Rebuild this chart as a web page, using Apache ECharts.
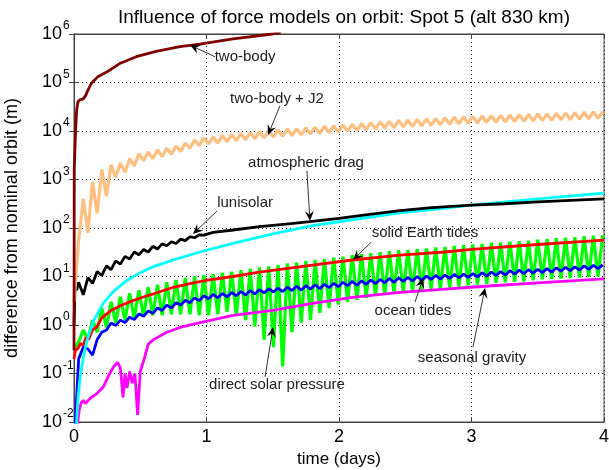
<!DOCTYPE html>
<html><head><meta charset="utf-8">
<script src="https://cdn.jsdelivr.net/npm/echarts@6/dist/echarts.min.js"></script>
<style>html,body{margin:0;padding:0;background:#fff}#c{width:609px;height:470px}</style>
</head><body><div id="c"></div>
<script>
const titleText = 'Influence of force models on orbit: Spot 5 (alt 830 km)';
const xName = 'time (days)';
const yName = 'difference from nominal orbit (m)';
const xTicks = [0, 1, 2, 3, 4];
const yTickBase = '10';
const yTickExponents = [-2, -1, 0, 1, 2, 3, 4, 5, 6];

// shared time grid (days) for the orbit-periodic series
const T = [0, 0.035, 0.07, 0.105, 0.14, 0.175, 0.21, 0.245, 0.28, 0.315,
  0.35, 0.385, 0.42, 0.455, 0.49, 0.525, 0.56, 0.595, 0.63, 0.665,
  0.7, 0.735, 0.77, 0.805, 0.84, 0.875, 0.91, 0.945, 0.98, 1.015,
  1.05, 1.085, 1.12, 1.155, 1.19, 1.225, 1.26, 1.295, 1.33, 1.365,
  1.4, 1.435, 1.47, 1.505, 1.54, 1.575, 1.61, 1.645, 1.68, 1.715,
  1.75, 1.785, 1.82, 1.855, 1.89, 1.925, 1.96, 1.995, 2.03, 2.065,
  2.1, 2.135, 2.17, 2.205, 2.24, 2.275, 2.31, 2.345, 2.38, 2.415,
  2.45, 2.485, 2.52, 2.555, 2.59, 2.625, 2.66, 2.695, 2.73, 2.765,
  2.8, 2.835, 2.87, 2.905, 2.94, 2.975, 3.01, 3.045, 3.08, 3.115,
  3.15, 3.185, 3.22, 3.255, 3.29, 3.325, 3.36, 3.395, 3.43, 3.465,
  3.5, 3.535, 3.57, 3.605, 3.64, 3.675, 3.71, 3.745, 3.78, 3.815,
  3.85, 3.885, 3.92, 3.955, 3.99];

const j2Values = [3, 56, 400, 80, 900, 200, 1600, 450, 2000, 1100,
  2200, 1400, 2700, 1900, 3400, 2450, 3700, 2700, 4100, 2950,
  4400, 3300, 4900, 3800, 5600, 4400, 6500, 5000, 7200, 5400,
  7600, 5600, 8100, 6000, 8500, 6300, 8900, 6600, 9300, 6900,
  9800, 7200, 10200, 7500, 10500, 7800, 11000, 8000, 11200, 8300,
  11700, 8600, 12000, 8900, 12600, 9200, 12900, 9500, 13400, 9900,
  13800, 10200, 14400, 10600, 14800, 11000, 15500, 11400, 15800, 11700,
  16600, 12200, 17000, 12400, 17400, 12700, 17800, 13000, 18200, 13500,
  18600, 13800, 19300, 14100, 19700, 14500, 20000, 14600, 20400, 15000,
  20700, 15100, 20900, 15500, 21400, 15700, 21600, 15800, 22100, 16200,
  22400, 16400, 22600, 16600, 23200, 17000, 23400, 17200, 24000, 17600,
  24300, 17800, 24800, 18200, 25100];

const solarPressureValues = [0.3, 0.45, 0.79, 0.5, 1.26, 0.71, 2.24, 0.89, 3.0, 1.12,
  3.8, 1.26, 4.5, 1.38, 5.2, 1.48, 6.0, 1.58, 6.8, 1.58,
  7.6, 1.66, 8.5, 1.66, 9.3, 1.66, 10, 1.58, 10.7, 1.58,
  11.2, 1.66, 12, 1.86, 12.6, 1.58, 13.5, 1.26, 14.5, 0.93,
  15.5, 0.5, 16.2, 0.35, 17.4, 0.14, 18.6, 0.71, 19.5, 1.12,
  20.9, 1.26, 21.9, 1.78, 22.9, 2.24, 24.5, 2.63, 25.7, 3.0,
  27.5, 3.3, 28.8, 3.6, 30.2, 4.0, 31.6, 4.2, 33.1, 4.5,
  34.7, 4.7, 35.5, 4.9, 37.2, 5.1, 38, 5.4, 39.8, 5.6,
  40.7, 5.9, 42.7, 6.2, 44.7, 6.5, 45.7, 6.8, 46.8, 7.1,
  49, 7.4, 50, 7.6, 52.5, 7.8, 53.7, 7.9, 55, 8.3,
  57.5, 8.7, 58.9, 8.9, 61.7, 9.1, 63, 9.3, 64.6, 9.5,
  67.6, 9.8, 69.2, 10, 70.8];

const oceanTidesValues = [0.003, 0.2, 0.35, 0.32, 0.24, 0.5, 0.71, 0.79, 1.1, 0.98,
  1.26, 1.12, 1.45, 1.29, 1.7, 1.51, 1.95, 1.74, 2.24, 2.0,
  2.57, 2.24, 2.88, 2.57, 3.24, 2.88, 3.63, 3.16, 4.0, 3.47,
  4.27, 3.63, 4.47, 3.8, 4.68, 4.0, 4.9, 4.17, 5.13, 4.37,
  5.37, 4.57, 5.62, 4.79, 5.75, 4.9, 6.03, 5.13, 6.31, 5.25,
  6.46, 5.5, 6.76, 5.62, 6.92, 5.89, 7.24, 6.17, 7.59, 6.46,
  7.94, 6.61, 8.13, 6.92, 8.51, 7.08, 8.71, 7.41, 9.12, 7.59,
  9.33, 7.94, 9.55, 8.13, 10, 8.32, 10.2, 8.71, 10.5, 8.91,
  10.7, 9.12, 11, 9.33, 11.2, 9.55, 11.5, 9.77, 12, 10.2,
  12.3, 10.5, 12.6, 10.7, 13.2, 11.2, 13.5, 11.5, 13.8, 11.7,
  14.1, 12, 14.5, 12.3, 15.1, 12.9, 15.5, 13.2, 15.8, 13.5,
  16.6, 14.1, 17, 14.5, 17.4];

const twoBodyT = [0, 0.002, 0.006, 0.012, 0.02, 0.03, 0.045, 0.07, 0.09, 0.1, 0.13, 0.18, 0.25, 0.35, 0.47, 0.62, 0.8, 0.95, 1.2, 1.5, 1.56];
const twoBodyV = [0.3, 1600, 3500, 10500, 27000, 40000, 44000, 46000, 55000, 65000, 95000, 132000, 166000, 250000, 340000, 440000, 550000, 620000, 790000, 1000000, 1080000];

const lunisolarT = [0, 0.008, 0.02, 0.035, 0.07, 0.105, 0.14, 0.175, 0.21, 0.245, 0.28, 0.315, 0.35, 0.385, 0.42, 0.455, 0.49, 0.525, 0.56, 0.595, 0.63, 0.665, 0.7, 0.735, 0.77, 0.805, 0.84, 0.875, 0.91, 0.945, 0.98, 1.05, 1.2, 1.4, 1.6, 1.78, 2.0, 2.2, 2.46, 2.7, 3.0, 3.25, 3.5, 3.75, 4.0];
const lunisolarV = [1, 6.3, 5.2, 7.6, 4.2, 9.5, 7.2, 12.6, 10.5, 16.6, 13.8, 21, 18, 26, 23, 32, 28, 36, 32, 42, 37, 47, 43, 52, 48, 59, 55, 66, 63, 72, 71, 81, 91, 107, 120, 135, 158, 186, 229, 263, 295, 316, 347, 372, 398];

const dragT = [0.015, 0.03, 0.05, 0.075, 0.1, 0.15, 0.22, 0.3, 0.4, 0.5, 0.6, 0.75, 0.95, 1.2, 1.5, 1.8, 2.1, 2.46, 2.7, 3.0, 3.5, 4.0];
const dragV = [0.0063, 0.032, 0.1, 0.25, 0.5, 1.26, 2.8, 5, 8.3, 12, 16, 22, 32, 48, 76, 112, 148, 204, 240, 295, 398, 525];

const solidTidesT = [0, 0.01, 0.03, 0.05, 0.07, 0.09, 0.11, 0.14, 0.17, 0.21, 0.28, 0.35, 0.42, 0.5, 0.6, 0.75, 0.9, 1.0, 1.2, 1.4, 1.7, 2.1, 2.46, 2.8, 3.0, 3.5, 4.0];
const solidTidesV = [0.2, 0.3, 0.33, 0.42, 0.38, 0.55, 0.5, 0.8, 0.9, 1.4, 2.0, 2.5, 3.0, 3.6, 4.4, 6.0, 7.4, 8.3, 10, 12.3, 15.8, 21.9, 27.5, 32, 36.3, 45.7, 56.2];

const seasonalT = [0.005, 0.02, 0.04, 0.055, 0.07, 0.085, 0.1, 0.13, 0.17, 0.22, 0.26, 0.3, 0.33, 0.35, 0.37, 0.385, 0.4, 0.42, 0.44, 0.46, 0.48, 0.5, 0.53, 0.56, 0.6, 0.7, 0.8, 0.95, 1.2, 1.5, 1.8, 2.1, 2.46, 2.8, 3.1, 3.5, 4.0];
const seasonalV = [0.001, 0.0063, 0.018, 0.025, 0.028, 0.024, 0.026, 0.032, 0.038, 0.052, 0.089, 0.14, 0.17, 0.13, 0.032, 0.1, 0.05, 0.11, 0.063, 0.1, 0.014, 0.11, 0.2, 0.4, 0.5, 0.71, 0.89, 1.12, 1.58, 2.0, 2.8, 3.7, 4.7, 5.5, 6.3, 7.4, 8.9];

// annotations: label centre, arrow tail and arrow tip in data coordinates
const annotations = [
  {text: 'two-body', at: [1.291, 3.36e5], tail: [1.064, 3.4e5], tip: [0.875, 5.9e5]},
  {text: 'two-body + J2', at: [1.532, 4.6e4], tail: [1.555, 3.3e4], tip: [1.464, 8300]},
  {text: 'atmospheric drag', at: [1.751, 2200], tail: [1.758, 1500], tip: [1.781, 139]},
  {text: 'lunisolar', at: [1.291, 327], tail: [1.079, 224], tip: [0.898, 75]},
  {text: 'solid Earth tides', at: [2.649, 79], tail: [2.242, 51], tip: [2.106, 21.9]},
  {text: 'ocean tides', at: [2.558, 1.95], tail: [2.574, 2.98], tip: [2.634, 9.3]},
  {text: 'seasonal gravity', at: [3.004, 0.209], tail: [3.011, 0.352], tip: [3.102, 5.8]},
  {text: 'direct solar pressure', at: [1.532, 0.058], tail: [1.442, 0.085], tip: [1.502, 0.91]}
];

const zip = (xs, ys) => xs.map((x, i) => [x, ys[i]]);
const FONT = 'Liberation Sans, Arial, Helvetica, sans-serif';

const chart = echarts.init(document.getElementById('c'), null, {renderer: 'canvas'});

function mkLine(name, data, color, width) {
  return {name, type: 'line', data, showSymbol: false, symbol: 'none', clip: true,
    lineStyle: {color, width}, itemStyle: {color}, animation: false, silent: true};
}

const frameColor = '#444';
const gridLineStyle = {color: '#222', width: 1, type: [1, 3]};
const yMin = Math.pow(10, yTickExponents[0]);
const yMax = Math.pow(10, yTickExponents[yTickExponents.length - 1]);

chart.setOption({
  animation: false,
  backgroundColor: '#fff',
  title: {text: titleText, left: 339, top: 3, textAlign: 'center',
    textStyle: {fontFamily: FONT, fontSize: 19, fontWeight: 'normal', color: '#000'}},
  grid: {left: 74, right: 5, top: 34, bottom: 48, containLabel: false, outerBoundsMode: 'none',
    show: true, borderColor: frameColor, borderWidth: 1, backgroundColor: '#fff'},
  xAxis: [{
    type: 'value', min: xTicks[0], max: xTicks[xTicks.length - 1], interval: 1,
    name: xName, nameLocation: 'middle', nameGap: 26,
    nameTextStyle: {fontFamily: FONT, fontSize: 17, color: '#000'},
    axisLine: {show: true, lineStyle: {color: frameColor}},
    axisTick: {show: true, inside: true, length: 5, lineStyle: {color: frameColor}},
    axisLabel: {fontFamily: FONT, fontSize: 18, color: '#000', margin: 6},
    splitLine: {show: true, lineStyle: gridLineStyle}
  }, {
    type: 'value', position: 'top', min: xTicks[0], max: xTicks[xTicks.length - 1], interval: 1,
    axisLine: {show: true, lineStyle: {color: frameColor}},
    axisTick: {show: true, inside: true, length: 5, lineStyle: {color: frameColor}},
    axisLabel: {show: false}, splitLine: {show: false}
  }],
  yAxis: [{
    type: 'log', logBase: 10, min: yMin, max: yMax,
    splitNumber: yTickExponents.length - 1,
    name: yName, nameLocation: 'middle', nameGap: 53, nameRotate: 90,
    nameTextStyle: {fontFamily: FONT, fontSize: 18, color: '#000'},
    axisLine: {show: true, lineStyle: {color: frameColor}},
    axisTick: {show: true, inside: true, length: 5, lineStyle: {color: frameColor}},
    minorTick: {show: false},
    axisLabel: {show: false},
    splitLine: {show: true, lineStyle: gridLineStyle}
  }, {
    type: 'log', logBase: 10, position: 'right', min: yMin, max: yMax,
    splitNumber: yTickExponents.length - 1,
    axisLine: {show: true, lineStyle: {color: frameColor}},
    axisTick: {show: true, inside: true, length: 5, lineStyle: {color: frameColor}},
    axisLabel: {show: false}, splitLine: {show: false}
  }],
  series: [
    mkLine('direct solar pressure', zip(T, solarPressureValues), '#00ff00', 3.2),
    mkLine('seasonal gravity', zip(seasonalT, seasonalV), '#ff00ff', 2.8),
    mkLine('ocean tides', zip(T, oceanTidesValues), '#0000ff', 2.8),
    mkLine('solid Earth tides', zip(solidTidesT, solidTidesV), '#ff0000', 2.8),
    mkLine('atmospheric drag', zip(dragT, dragV), '#00ffff', 2.8),
    mkLine('lunisolar', zip(lunisolarT, lunisolarV), '#000000', 2.8),
    mkLine('two-body + J2', zip(T, j2Values), '#ffbf80', 3.2),
    mkLine('two-body', zip(twoBodyT, twoBodyV), '#800000', 2.8)
  ]
});

function arrowShapes(tail, tip) {
  const dx = tip[0] - tail[0], dy = tip[1] - tail[1];
  const L = Math.hypot(dx, dy) || 1;
  const ux = dx / L, uy = dy / L, px = -uy, py = ux;
  const len = 10, w = 4.5, notch = 6.5;
  const head = [
    [tip[0], tip[1]],
    [tip[0] - ux * len + px * w, tip[1] - uy * len + py * w],
    [tip[0] - ux * notch, tip[1] - uy * notch],
    [tip[0] - ux * len - px * w, tip[1] - uy * len - py * w]
  ];
  return [
    {type: 'line', silent: true, z: 100, shape: {x1: tail[0], y1: tail[1], x2: tip[0] - ux * notch, y2: tip[1] - uy * notch},
      style: {stroke: '#000', lineWidth: 0.8}},
    {type: 'polygon', silent: true, z: 100, shape: {points: head}, style: {fill: '#000'}}
  ];
}

const graphics = [];
// y tick labels as 10 with superscript exponent
const plotLeft = chart.convertToPixel({xAxisIndex: 0}, xTicks[0]);
yTickExponents.forEach(e => {
  const p = chart.convertToPixel({yAxisIndex: 0}, Math.pow(10, e));
  graphics.push({type: 'text', silent: true, z: 50, x: plotLeft - 12, y: p,
    style: {text: yTickBase, fontFamily: FONT, fontSize: 18, fill: '#000',
      textAlign: 'right', textVerticalAlign: 'middle', align: 'right', verticalAlign: 'middle'}});
  graphics.push({type: 'text', silent: true, z: 50, x: plotLeft - 11, y: p - 8,
    style: {text: String(e), fontFamily: FONT, fontSize: 12, fill: '#000',
      textAlign: 'left', textVerticalAlign: 'middle', align: 'left', verticalAlign: 'middle'}});
});
annotations.forEach(a => {
  const p = chart.convertToPixel({gridIndex: 0}, a.at);
  const t0 = chart.convertToPixel({gridIndex: 0}, a.tail);
  const t1 = chart.convertToPixel({gridIndex: 0}, a.tip);
  graphics.push(...arrowShapes(t0, t1));
  graphics.push({type: 'text', silent: true, z: 100, x: p[0], y: p[1],
    style: {text: a.text, fontFamily: FONT, fontSize: 15, fill: '#222',
      textAlign: 'center', textVerticalAlign: 'middle', align: 'center', verticalAlign: 'middle'}});
});
chart.setOption({graphic: graphics});
</script>
</body></html>
